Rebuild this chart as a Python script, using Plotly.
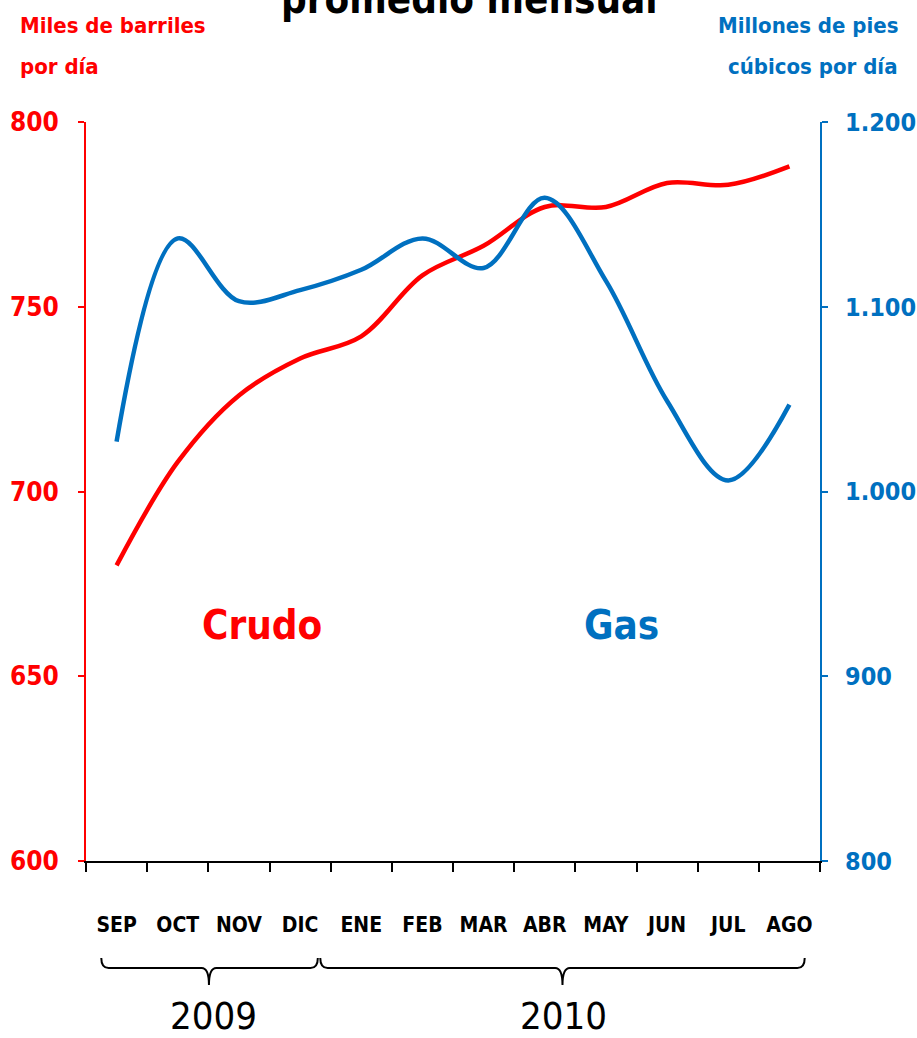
import plotly.graph_objects as go

months = ["SEP", "OCT", "NOV", "DIC", "ENE", "FEB", "MAR", "ABR", "MAY", "JUN", "JUL", "AGO"]
years = ["2009", "2010"]
crudo = [680, 708, 726, 736, 742, 758.5, 766.5, 777, 777, 783.5, 783, 788]
gas = [1027, 1137, 1103, 1109, 1120, 1137, 1121, 1159, 1114, 1049, 1006, 1047]
crudo_ticks = [600, 650, 700, 750, 800]
gas_ticks = [800, 900, 1000, 1100, 1200]
gas_ticktext = ["800", "900", "1.000", "1.100", "1.200"]

RED = "#FF0000"
BLUE = "#0070C0"
FONT = "Liberation Sans Narrow, DejaVu Sans Condensed, Arial Narrow, sans-serif"

x = list(range(len(months)))

fig = go.Figure()
fig.add_trace(go.Scatter(x=x, y=crudo, mode="lines", line=dict(color=RED, width=4.5, shape="spline"),
                         yaxis="y", showlegend=False, hoverinfo="skip"))
fig.add_trace(go.Scatter(x=x, y=gas, mode="lines", line=dict(color=BLUE, width=4.5, shape="spline"),
                         yaxis="y2", showlegend=False, hoverinfo="skip"))

# page-pixel helpers (plot area spans x 86..820, y 122..861)
def ypx(p):
    return (861 - p) / 739.0

def xpx(p):
    return (p - 86) / 734.0

def brace(x0, x1, c):
    top, mid, tip = ypx(958), ypx(968), ypx(985)
    d = 0.12
    return (f"M {x0},{top} Q {x0},{mid} {x0+d},{mid} L {c-d},{mid} Q {c},{mid} {c},{tip} "
            f"Q {c},{mid} {c+d},{mid} L {x1-d},{mid} Q {x1},{mid} {x1},{top}")

shapes = [
    dict(type="path", xref="x", yref="paper", path=brace(-0.25, 3.29, 1.51),
         line=dict(color="black", width=2)),
    dict(type="path", xref="x", yref="paper", path=brace(3.33, 11.25, 7.29),
         line=dict(color="black", width=2)),
]

tf_red = dict(family=FONT, size=22, color=RED, weight="bold")
tf_blue = dict(family=FONT, size=22, color=BLUE, weight="bold")

annotations = [
    dict(text="promedio mensual", xref="paper", yref="paper", x=xpx(470), xanchor="center",
         y=ypx(24), yanchor="bottom",
         showarrow=False, font=dict(family=FONT, size=40, color="black", weight="bold")),
    dict(text="Miles de barriles", xref="paper", yref="paper", x=xpx(18), xanchor="left",
         y=ypx(25), yanchor="middle", showarrow=False, font=tf_red),
    dict(text="por día", xref="paper", yref="paper", x=xpx(18), xanchor="left",
         y=ypx(67), yanchor="middle", showarrow=False, font=tf_red),
    dict(text="Millones de pies", xref="paper", yref="paper", x=xpx(900), xanchor="right",
         y=ypx(25), yanchor="middle", showarrow=False, font=tf_blue),
    dict(text="cúbicos por día", xref="paper", yref="paper", x=xpx(900), xanchor="right",
         y=ypx(67), yanchor="middle", showarrow=False, font=tf_blue),
    dict(text="Crudo", xref="x", yref="y", x=2.38, y=664, xanchor="center", yanchor="middle",
         showarrow=False, font=dict(family=FONT, size=40, color=RED, weight="bold")),
    dict(text="Gas", xref="x", yref="y", x=8.25, y=664, xanchor="center", yanchor="middle",
         showarrow=False, font=dict(family=FONT, size=40, color=BLUE, weight="bold")),
    dict(text=years[0], xref="x", yref="paper", x=1.58, y=ypx(1016), xanchor="center", yanchor="middle",
         showarrow=False, font=dict(family=FONT, size=38, color="black")),
    dict(text=years[1], xref="x", yref="paper", x=7.3, y=ypx(1016), xanchor="center", yanchor="middle",
         showarrow=False, font=dict(family=FONT, size=38, color="black")),
]

fig.update_layout(
    width=917, height=1038,
    margin=dict(l=86, r=97, t=122, b=177),
    paper_bgcolor="white", plot_bgcolor="white",
    shapes=shapes, annotations=annotations,
    xaxis=dict(range=[-0.5, 11.5], tickmode="array", tickvals=x, ticktext=months, automargin=False,
               ticks="", showgrid=False, zeroline=False, showline=True, linecolor="black", linewidth=2,
               ticklabelstandoff=44,
               tickfont=dict(family=FONT, size=21, color="black", weight="bold"),
               minor=dict(tickmode="array", tickvals=[i - 0.5 for i in range(13)], ticks="outside",
                          ticklen=9, tickwidth=2, tickcolor="black", showgrid=False)),
    yaxis=dict(range=[600, 800], tickmode="array", tickvals=crudo_ticks, ticks="outside", ticklen=6,
               tickwidth=2, tickcolor=RED, showline=True, linecolor=RED, linewidth=2, showgrid=False,
               zeroline=False, ticklabelstandoff=14, automargin=False,
               tickfont=dict(family=FONT, size=26, color=RED, weight="bold")),
    yaxis2=dict(range=[800, 1200], overlaying="y", side="right", tickmode="array", tickvals=gas_ticks,
                ticktext=gas_ticktext, ticks="outside", ticklen=6, tickwidth=2, tickcolor=BLUE,
                showline=True, linecolor=BLUE, linewidth=2, showgrid=False, zeroline=False,
                ticklabelstandoff=12, automargin=False,
                tickfont=dict(family=FONT, size=25, color=BLUE, weight="bold")),
)

fig.write_html("out.html", config={"displayModeBar": False},
               post_script="document.body.style.margin='0';")
